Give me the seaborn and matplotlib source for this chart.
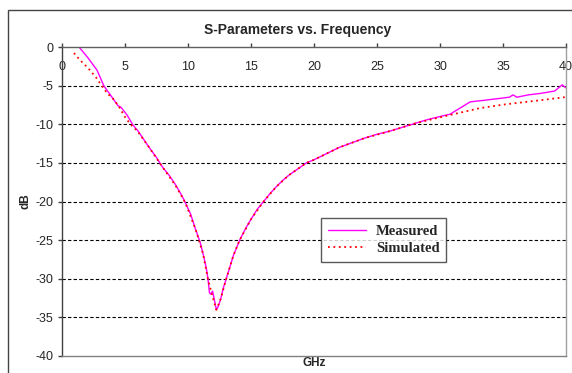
import seaborn as sns
import pandas as pd
import matplotlib.pyplot as plt
from matplotlib.patches import Rectangle

# Measured S-parameter trace (GHz, dB)
meas_freq = [1.35, 2.06, 2.78, 3.33, 3.97, 4.44, 4.68, 5.16, 5.63, 6.0, 6.5, 7.0, 7.5,
             8.0, 8.5, 9.0, 9.5, 9.8, 10.2, 10.6, 10.95, 11.2, 11.45, 11.6, 11.7, 11.8,
             11.95, 12.1, 12.25, 12.4, 12.6, 12.8, 13.0, 13.3, 13.6, 14.1, 14.6, 15.0,
             15.5, 16.0, 16.5, 17.0, 17.5, 18.0, 18.7, 19.4, 20.0, 21.0, 22.0, 23.0,
             24.0, 25.0, 26.0, 27.0, 28.0, 29.0, 30.0, 30.8, 31.5, 32.4, 33.5, 34.5,
             35.5, 35.8, 36.1, 37.0, 38.0, 39.1, 39.7, 40.0]
meas_db = [0.0, -1.4, -3.0, -5.05, -6.5, -7.6, -7.8, -8.8, -10.1, -10.8, -12.0, -13.2, -14.3,
           -15.6, -16.6, -17.8, -19.2, -20.2, -21.6, -23.6, -25.2, -26.8, -28.6, -30.2, -31.8, -32.0,
           -31.6, -32.8, -34.0, -33.6, -32.6, -31.2, -30.2, -28.6, -27.0, -25.0, -23.4, -22.3,
           -21.0, -20.0, -19.0, -18.1, -17.3, -16.6, -15.8, -15.0, -14.6, -13.8, -13.0, -12.4,
           -11.8, -11.3, -10.9, -10.4, -9.9, -9.4, -9.0, -8.7, -8.0, -7.1, -6.9, -6.7,
           -6.5, -6.2, -6.5, -6.2, -6.0, -5.7, -4.9, -5.3]

# Simulated trace
sim_freq = [0.95, 1.43, 2.06, 2.78, 3.1, 3.57, 4.05, 4.44, 5.0, 5.4, 6.0, 7.0, 8.0, 9.0,
            9.8, 10.6, 11.2, 11.6, 11.9, 12.25, 12.6, 13.0, 13.6, 14.1, 15.0, 16.0, 17.0,
            18.0, 19.4, 20.0, 22.0, 24.0, 26.0, 28.0, 30.0, 30.8, 33.2, 35.3, 37.4, 39.9]
sim_db = [-0.78, -1.7, -2.7, -4.1, -4.9, -5.95, -6.7, -7.5, -9.05, -9.95, -10.9, -13.2, -15.6, -17.9,
          -20.2, -23.6, -26.8, -30.2, -32.0, -34.0, -32.6, -30.2, -27.0, -25.0, -22.3, -20.0, -18.1,
          -16.6, -15.0, -14.6, -13.0, -11.8, -10.9, -9.9, -9.1, -8.8, -7.9, -7.4, -7.0, -6.5]

x_ticks = list(range(0, 41, 5))
y_ticks = list(range(-40, 1, 5))

df_meas = pd.DataFrame({'GHz': meas_freq, 'dB': meas_db})
df_sim = pd.DataFrame({'GHz': sim_freq, 'dB': sim_db})

sns.set_style('white')
plt.rcParams['font.family'] = ['Liberation Sans', 'DejaVu Sans']
plt.rcParams['axes.unicode_minus'] = False

fig = plt.figure(figsize=(5.72, 3.73), dpi=100)
ax = fig.add_axes([62 / 572, 1 - 356 / 373, 504 / 572, 309 / 373])

# outer chart frame (cropped at right/bottom)
fig.patches.append(Rectangle((8 / 572, -0.1), 1.2, 1 - 10 / 373 + 0.1,
                             transform=fig.transFigure, fill=False,
                             edgecolor='#444444', linewidth=1.0))

sns.lineplot(data=df_meas, x='GHz', y='dB', ax=ax, color='#FF00FF', linewidth=1.0,
             label='Measured', sort=False)
sns.lineplot(data=df_sim, x='GHz', y='dB', ax=ax, color='#FF0000', linewidth=1.3,
             label='Simulated', sort=False)
ax.lines[1].set_linestyle((0, (1, 2)))

ax.set_xlim(0, 40)
ax.set_ylim(-40, 0)
ax.set_xticks(x_ticks)
ax.set_yticks(y_ticks)

for yv in y_ticks[1:-1]:
    ax.axhline(yv, color='black', linewidth=0.8, linestyle=(0, (3, 2)), zorder=0)

ax.xaxis.tick_top()
ax.tick_params(axis='x', top=True, bottom=False, labeltop=True, labelbottom=False,
               direction='out', length=3, width=1, color='#404040', pad=-22, labelsize=9)
ax.tick_params(axis='y', left=True, direction='out', length=3, width=1,
               color='#404040', pad=3, labelsize=9)

for side, col in [('top', '#606060'), ('left', '#404040'),
                  ('bottom', '#808080'), ('right', '#a0a0a0')]:
    ax.spines[side].set_color(col)
    ax.spines[side].set_linewidth(1.0)

ax.xaxis.set_label_position('bottom')
ax.set_xlabel('GHz', fontsize=8.5, fontweight='bold', labelpad=1)
ax.set_ylabel('dB', fontsize=8.5, fontweight='bold', labelpad=3)

fig.text(298 / 572, 1 - 30 / 373, 'S-Parameters vs. Frequency', ha='center', va='center',
         fontsize=10, fontweight='bold')

leg = ax.legend(loc='upper left', bbox_to_anchor=(0.514, 0.445), borderaxespad=0,
                frameon=True, fancybox=False,
                edgecolor='#303030', handlelength=2.6, borderpad=0.45, labelspacing=0.25,
                handletextpad=0.7,
                prop={'family': 'Liberation Serif', 'weight': 'bold', 'size': 10.5})
leg.get_frame().set_linewidth(1.0)

fig.savefig('out.png', dpi=100)
